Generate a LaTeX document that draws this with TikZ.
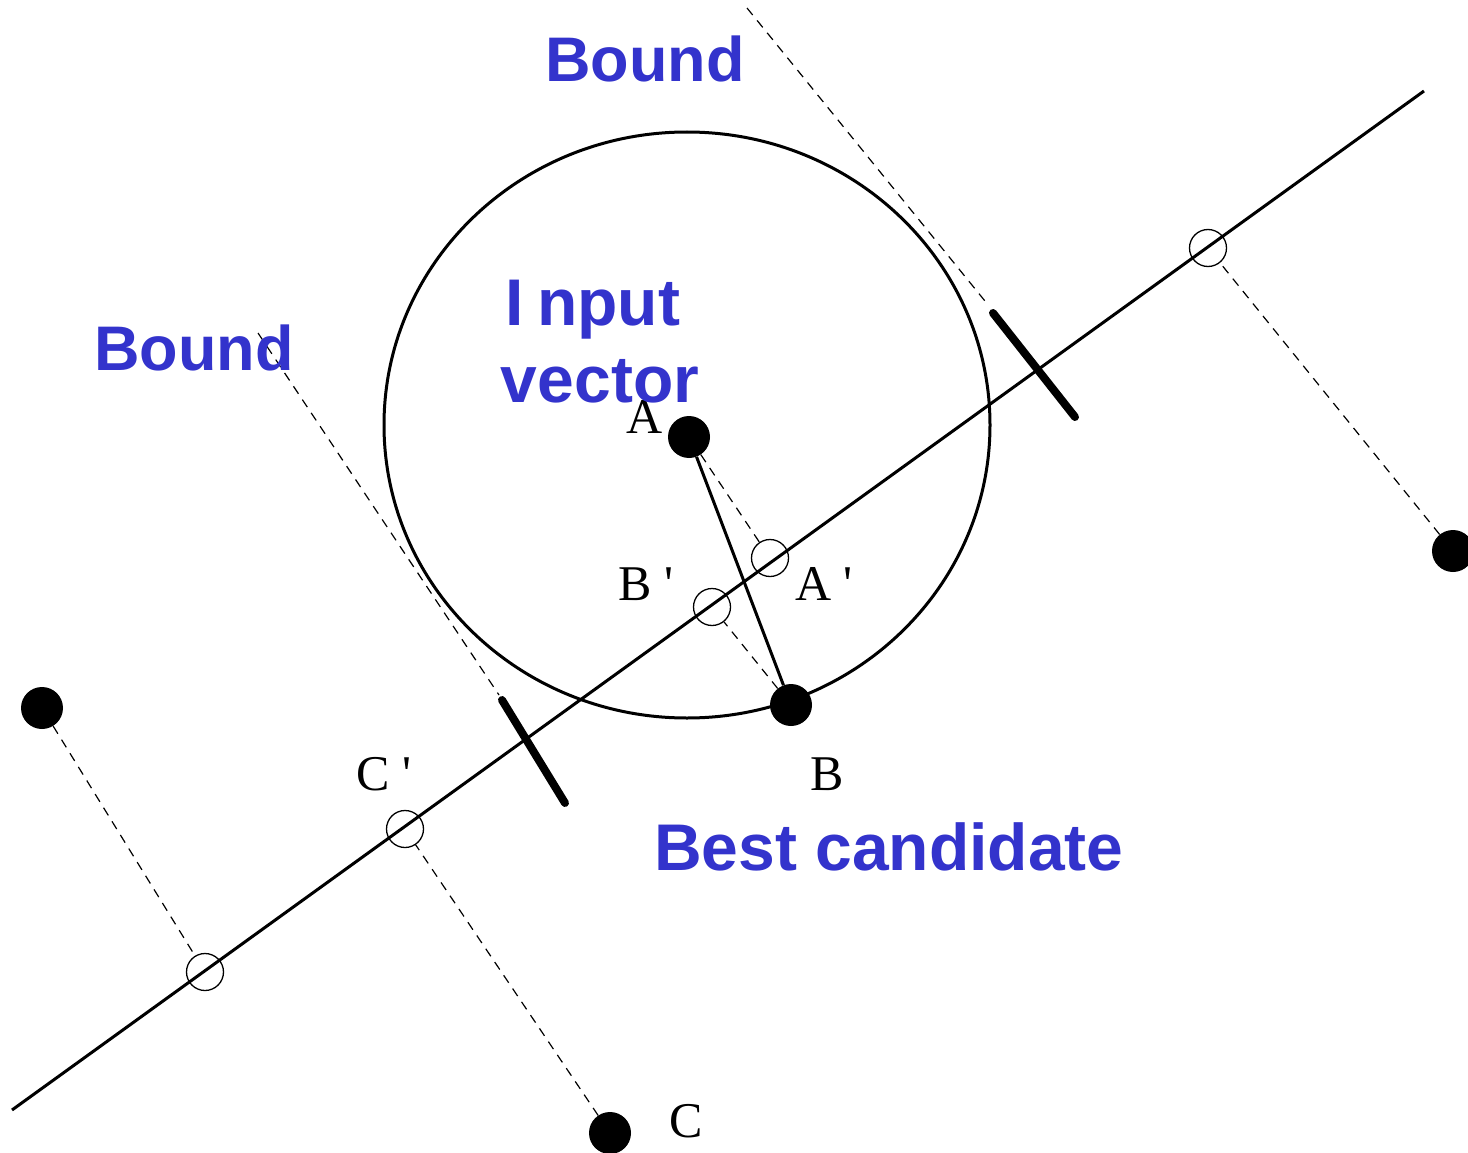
\documentclass[tikz,border=0pt]{standalone}
\usepackage{fontspec}
\setmainfont{Liberation Serif}
\newfontfamily\blfont{Liberation Sans}
\definecolor{lblue}{RGB}{51,51,204}
\begin{document}
\begin{tikzpicture}[x=1pt,y=-1pt,
  dot/.style={circle,fill=black,inner sep=0pt,minimum size=42pt},
  proj/.style={circle,draw=black,line width=1.3pt,inner sep=0pt,minimum size=37pt},
  dashline/.style={dash pattern=on 9pt off 7pt,line width=1.2pt},
  tickmark/.style={line width=8pt,line cap=round},
  mainline/.style={line width=3pt},
  lbl/.style={font=\fontsize{50}{60}\selectfont,anchor=base,inner sep=0pt},
  bluelbl/.style={font=\blfont\bfseries\fontsize{66}{78}\selectfont,text=lblue,anchor=base,inner sep=0pt}
]
\useasboundingbox (0,0) rectangle (1468,1153);

% main projection line
\coordinate (L1) at (12,1110);
\coordinate (L2) at (1424,91);
\draw[mainline] (L1) -- (L2);

% search circle
\draw[mainline] (687,425) ellipse [x radius=303pt, y radius=293pt];

% bound lines
\coordinate (TB1) at (747,8);
\coordinate (TB2) at (989,306);
\coordinate (TT1) at (993,313);
\coordinate (TT2) at (1075,417);
\coordinate (LB1) at (258,333);
\coordinate (LB2) at (499,695);
\coordinate (LT1) at (502,700);
\coordinate (LT2) at (565,803);
\draw[dashline] (TB1) -- (TB2);
\draw[dashline] (LB1) -- (LB2);
\draw[tickmark] (TT1) -- (TT2);
\draw[tickmark] (LT1) -- (LT2);

% points
\node[dot] (A) at (689,437) {};
\node[dot] (B) at (791,705) {};
\node[dot] (C) at (610,1133) {};
\node[dot] (D) at (42,708) {};
\node[dot] (E) at (1453,551) {};

% projections
\node[proj] (Ap) at (770,558) {};
\node[proj] (Bp) at (712,607) {};
\node[proj] (Cp) at (405,829) {};
\node[proj] (Dp) at (205,972) {};
\node[proj] (Ep) at (1208,248) {};

% connectors
\draw[mainline] (A) -- (B);
\draw[dashline] (A) -- (Ap);
\draw[dashline] (B) -- (Bp);
\draw[dashline] (C) -- (Cp);
\draw[dashline] (D) -- (Dp);
\draw[dashline] (E) -- (Ep);

% black labels
\node[lbl] (lA) at (645,433) {A};
\node[lbl] (lBp) at (646,600) {B\ \textquotesingle};
\node[lbl] (lAp) at (824,600) {A\ \textquotesingle};
\node[lbl] (lB) at (827,790) {B};
\node[lbl] (lCp) at (384,790) {C\ \textquotesingle};
\node[lbl] (lC) at (686,1137) {C};

% blue labels
\node[bluelbl,font=\blfont\bfseries\fontsize{63}{75}\selectfont] (bound1) at (645,82) {Bound};
\node[bluelbl,font=\blfont\bfseries\fontsize{63}{75}\selectfont] (bound2) at (194,370) {Bound};
\node[bluelbl] (input) at (593,325) {I\kern0.2em nput};
\node[bluelbl] (vector) at (600,402) {vector};
\node[bluelbl] (best) at (889,870) {Best candidate};
\end{tikzpicture}
\end{document}
